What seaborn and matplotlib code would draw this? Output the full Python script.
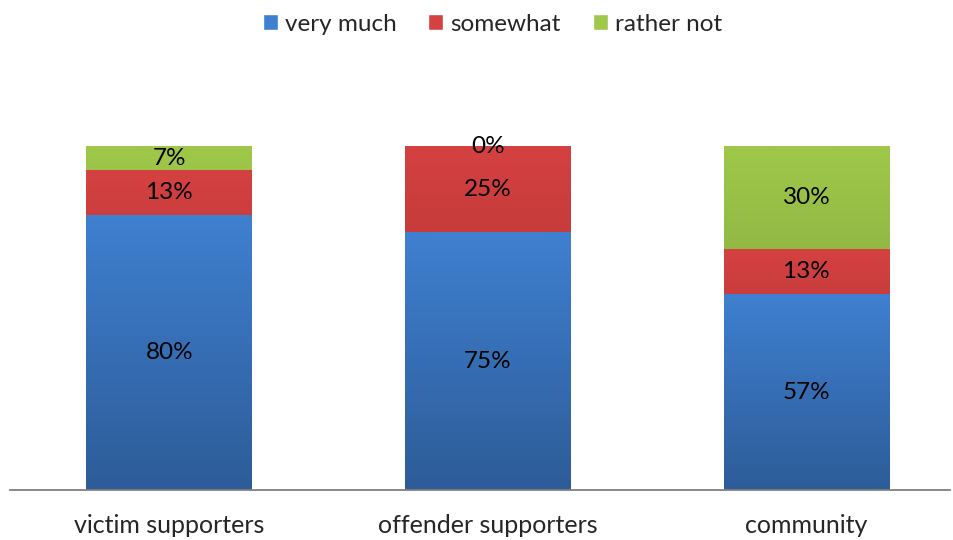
import matplotlib
matplotlib.use("Agg")
import matplotlib.pyplot as plt
import matplotlib.colors as mcolors
import numpy as np
import pandas as pd
import seaborn as sns

groups = ["victim supporters", "offender supporters", "community"]
very_much = [80, 75, 57]
somewhat = [13, 25, 13]
rather_not = [7, 0, 30]

series_names = ["very much", "somewhat", "rather not"]
# (top colour, bottom colour) for the gradient fill
grad = {
    "very much": ("#3f80d0", "#2d5c98"),
    "somewhat": ("#d44141", "#9e2b2b"),
    "rather not": ("#9fc84a", "#759635"),
}

sns.set_theme(style="white")
plt.rcParams["font.family"] = ["Lato", "DejaVu Sans"]

fig = plt.figure(figsize=(9.54, 5.4), dpi=100)
ax = fig.add_axes([0.0105, 0.0926, 0.985, 0.764])

vm = np.array(very_much)
sw = np.array(somewhat)
rn = np.array(rather_not)
stacks = [
    ("rather not", vm + sw + rn),
    ("somewhat", vm + sw),
    ("very much", vm),
]

for name, tops in stacks:
    df = pd.DataFrame({"group": groups, "value": tops})
    n0 = len(ax.patches)
    sns.barplot(data=df, x="group", y="value", color=grad[name][0],
                width=0.52, ax=ax, saturation=1)
    for p in ax.patches[n0:]:
        p.set_edgecolor("none")
        p._series = name

# gradient overlay clipped to each bar
for p in list(ax.patches):
    name = getattr(p, "_series", None)
    if name is None:
        continue
    x0, y0 = p.get_x(), p.get_y()
    w, h = p.get_width(), p.get_height()
    if h <= 0:
        continue
    cmap = mcolors.LinearSegmentedColormap.from_list("g", [grad[name][1], grad[name][0]])
    g = np.linspace(0, 1, 256).reshape(-1, 1)
    im = ax.imshow(g, cmap=cmap, aspect="auto", origin="lower",
                   extent=[x0, x0 + w, y0, y0 + h], zorder=p.get_zorder() + 0.1)
    im.set_clip_path(p)

# value labels at centre of each segment
for i in range(len(groups)):
    bottom = 0
    for vals in (very_much, somewhat, rather_not):
        v = vals[i]
        ax.text(i, bottom + v / 2, f"{v}%", ha="center", va="center",
                fontsize=17.5, color="black", zorder=10)
        bottom += v

ax.set_xlim(-0.5, 2.45)
ax.set_ylim(0, 120)
ax.set_xlabel("")
ax.set_ylabel("")
ax.set_yticks([])
ax.tick_params(axis="x", labelsize=18, pad=17, length=0)
for s in ["top", "right", "left"]:
    ax.spines[s].set_visible(False)
ax.spines["bottom"].set_color("#808080")
ax.spines["bottom"].set_linewidth(1.3)

handles = [plt.Rectangle((0, 0), 1, 1, facecolor=grad[n][0]) for n in series_names]
fig.legend(handles, series_names, loc="upper center", bbox_to_anchor=(0.516, 1.015),
           ncol=3, frameon=False, fontsize=17.5, handlelength=0.62, handleheight=0.62,
           handletextpad=0.3, columnspacing=1.3)

fig.savefig("out.png", dpi=100)
